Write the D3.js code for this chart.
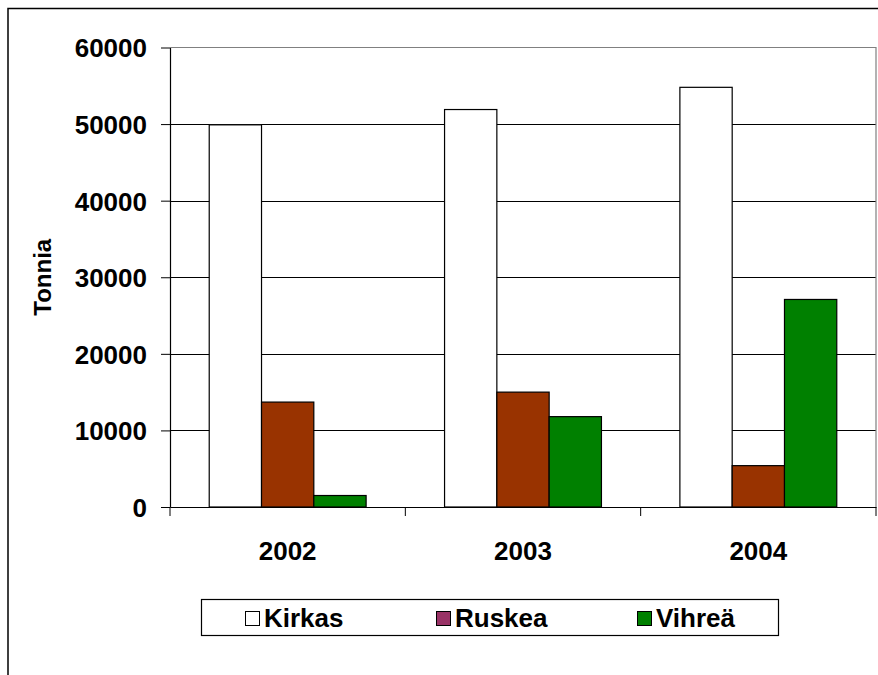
<!DOCTYPE html>
<html>
<head>
<meta charset="utf-8">
<script src="https://cdn.jsdelivr.net/npm/d3@7/dist/d3.min.js"></script>
<style>
  html, body { margin: 0; padding: 0; background: #fff; }
  svg { display: block; }
  text { font-family: "Liberation Sans", Arial, sans-serif; font-weight: bold; fill: #000; }
</style>
</head>
<body>
<svg id="chart" width="878" height="675"></svg>
<script>
// Lasipakkausten keräysmäärät värin mukaan (tonnia)
const years = ["2002", "2003", "2004"];
const seriesNames = ["Kirkas", "Ruskea", "Vihreä"];
const kirkas = [49900, 51900, 54800];
const ruskea = [13700, 15000, 5400];
const vihrea = [1500, 11800, 27100];
const yTicks = [0, 10000, 20000, 30000, 40000, 50000, 60000];
const barColors = ["#ffffff", "#993300", "#008000"];
const legendColors = ["#ffffff", "#993366", "#008000"];
const yTitle = "Tonnia";

const seriesValues = [kirkas, ruskea, vihrea];
const rows = years.map((y, i) => ({
  year: y,
  values: seriesNames.map((s, j) => ({ series: s, idx: j, value: seriesValues[j][i] }))
}));

const svg = d3.select("#chart");
const FS = 26;       // font size

const plot = { left: 170, right: 876, top: 47.5, bottom: 507 };

// outer chart frame
svg.append("path")
  .attr("d", `M8,${675 + 2} L8,8.5 L${878 + 2},8.5`)
  .attr("fill", "none").attr("stroke", "#000").attr("stroke-width", 1.5);

const x = d3.scaleBand().domain(years).range([plot.left, plot.right]).paddingInner(0).paddingOuter(0);
const xs = d3.scaleBand().domain(seriesNames).range([0, x.bandwidth()]).paddingInner(0).paddingOuter(0.75);
const y = d3.scaleLinear().domain([0, 60000]).range([plot.bottom, plot.top]);

// gridlines
svg.append("g").selectAll("line").data(yTicks.filter(t => t > 0 && t < 60000)).join("line")
  .attr("x1", plot.left).attr("x2", plot.right)
  .attr("y1", d => Math.round(y(d)) + 0.5).attr("y2", d => Math.round(y(d)) + 0.5)
  .attr("stroke", "#000").attr("stroke-width", 1);

// plot area border (top and right)
svg.append("path")
  .attr("d", `M${plot.left},${plot.top} L${plot.right},${plot.top} L${plot.right},${plot.bottom}`)
  .attr("fill", "none").attr("stroke", "#808080").attr("stroke-width", 1.2);

// bars
const groups = svg.append("g").selectAll("g").data(rows).join("g")
  .attr("transform", d => `translate(${x(d.year)},0)`);
groups.selectAll("rect").data(d => d.values).join("rect")
  .attr("x", d => xs(d.series))
  .attr("width", xs.bandwidth())
  .attr("y", d => y(d.value))
  .attr("height", d => y(0) - y(d.value))
  .attr("fill", d => barColors[d.idx])
  .attr("stroke", "#000").attr("stroke-width", 1.2);

// y axis
const yAxis = svg.append("g").attr("transform", `translate(${plot.left},0)`)
  .call(d3.axisLeft(y).tickValues(yTicks).tickFormat(d3.format("d")).tickSize(9).tickSizeOuter(0).tickPadding(14));
yAxis.select(".domain").attr("stroke", "#000").attr("stroke-width", 1.2);
yAxis.selectAll(".tick line").attr("stroke", "#000");
yAxis.selectAll(".tick text")
  .attr("font-size", FS).attr("font-family", null).attr("x", -23).attr("dy", "0.36em");

// x axis
const xAxis = svg.append("g").attr("transform", `translate(0,${plot.bottom})`)
  .call(d3.axisBottom(x).tickSize(0).tickPadding(0));
xAxis.select(".domain").attr("stroke", "#000").attr("stroke-width", 1.2);
xAxis.selectAll(".tick text").remove();
// category boundary ticks
const bounds = years.map(d => x(d)).concat([x(years[years.length - 1]) + x.bandwidth()]);
xAxis.selectAll("line.boundary").data(bounds).join("line").attr("class", "boundary")
  .attr("x1", d => d).attr("x2", d => d).attr("y1", 0).attr("y2", 9)
  .attr("stroke", "#000").attr("stroke-width", 1);
xAxis.selectAll("text.lbl").data(years).join("text").attr("class", "lbl")
  .attr("x", d => x(d) + x.bandwidth() / 2).attr("y", 53)
  .attr("text-anchor", "middle").attr("font-size", FS).text(d => d);

// y title
svg.append("text")
  .attr("transform", `translate(51,${(y(0) + y(60000)) / 2}) rotate(-90)`)
  .attr("text-anchor", "middle").attr("font-size", 24).text(yTitle);

// legend
const leg = svg.append("g");
leg.append("rect").attr("x", 201.5).attr("y", 599.5).attr("width", 577).attr("height", 36)
  .attr("fill", "#fff").attr("stroke", "#000").attr("stroke-width", 1.2);
const legX = [245, 436, 637];
const items = leg.selectAll("g.item").data(seriesNames).join("g").attr("class", "item")
  .attr("transform", (d, i) => `translate(${legX[i]},611)`);
items.append("rect").attr("x", 0.5).attr("y", 0.5).attr("width", 14).attr("height", 14)
  .attr("fill", (d, i) => legendColors[i]).attr("stroke", "#000").attr("stroke-width", 1);
items.append("text").attr("x", 19).attr("y", 16).attr("font-size", FS).text(d => d);
</script>
</body>
</html>
